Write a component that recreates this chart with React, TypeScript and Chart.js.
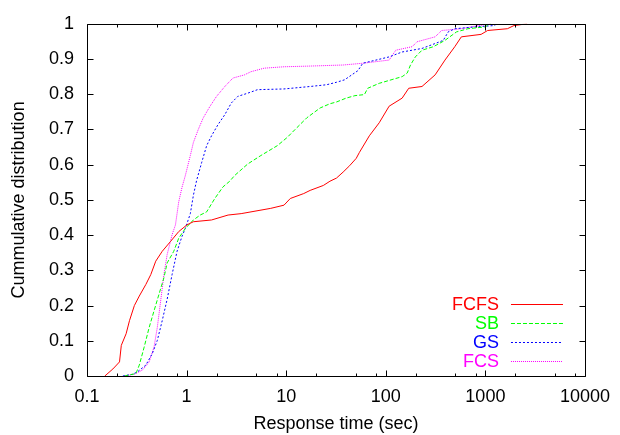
import React, { useEffect, useRef } from "react";
import { Chart, registerables } from "chart.js";

Chart.register(...registerables);

// ---- Data ----
const FCFS_X = [0.151, 0.182, 0.212, 0.221, 0.247, 0.267, 0.299, 0.335, 0.39, 0.437, 0.49, 0.569, 0.69, 0.833, 1.007, 1.17, 1.78, 2.61, 3.53, 7.0, 9.5, 11.0, 15.0, 17.4, 23.6, 27.5, 32, 37.3, 43.3, 50.5, 54.4, 68.4, 85.9, 108, 146, 170, 231, 313, 393, 493, 574, 906, 1054, 1663, 1936, 2623];
const FCFS_Y = [0, 0.02, 0.04, 0.087, 0.12, 0.157, 0.2, 0.227, 0.26, 0.288, 0.326, 0.354, 0.382, 0.41, 0.429, 0.438, 0.443, 0.457, 0.461, 0.476, 0.485, 0.504, 0.518, 0.527, 0.541, 0.553, 0.562, 0.579, 0.597, 0.618, 0.635, 0.682, 0.719, 0.766, 0.789, 0.817, 0.822, 0.855, 0.897, 0.935, 0.963, 0.97, 0.981, 0.986, 0.995, 1];

const SB_X = [0.238, 0.31, 0.335, 0.375, 0.421, 0.471, 0.528, 0.592, 0.638, 0.743, 0.833, 0.971, 1.17, 1.37, 1.59, 1.92, 2.32, 2.71, 3.03, 4.11, 5.57, 8.15, 10.2, 12.8, 16.1, 21.9, 27.5, 32, 40, 49, 61, 65.9, 85.9, 146, 164, 177, 198, 231, 301, 393, 513, 668, 977, 1138];
const SB_Y = [0, 0.007, 0.031, 0.082, 0.138, 0.185, 0.232, 0.279, 0.321, 0.354, 0.391, 0.419, 0.443, 0.457, 0.466, 0.504, 0.537, 0.553, 0.569, 0.602, 0.626, 0.654, 0.677, 0.705, 0.733, 0.761, 0.773, 0.778, 0.789, 0.796, 0.799, 0.817, 0.831, 0.85, 0.86, 0.883, 0.906, 0.925, 0.935, 0.953, 0.977, 0.986, 0.991, 1];

const GS_X = [0.229, 0.287, 0.322, 0.39, 0.453, 0.508, 0.569, 0.638, 0.715, 0.802, 0.898, 0.971, 1.09, 1.17, 1.26, 1.42, 1.59, 1.78, 2.07, 2.42, 2.81, 3.27, 4.11, 5.16, 9.5, 17.4, 25.5, 32, 38.6, 52.5, 58.8, 79.6, 108, 146, 231, 313, 378, 423, 493, 778, 1228, 1300];
const GS_Y = [0, 0.005, 0.012, 0.031, 0.064, 0.101, 0.157, 0.218, 0.288, 0.354, 0.396, 0.419, 0.461, 0.513, 0.555, 0.607, 0.654, 0.682, 0.714, 0.742, 0.775, 0.794, 0.803, 0.813, 0.815, 0.822, 0.827, 0.834, 0.841, 0.867, 0.888, 0.897, 0.906, 0.92, 0.93, 0.944, 0.953, 0.977, 0.986, 0.991, 0.995, 1];

const FCS_X = [0.238, 0.299, 0.361, 0.421, 0.471, 0.508, 0.549, 0.592, 0.638, 0.715, 0.773, 0.833, 0.898, 0.971, 1.09, 1.17, 1.31, 1.47, 1.72, 2.0, 2.42, 2.92, 3.81, 4.43, 6.01, 9.5, 17.4, 37.3, 58.8, 108, 126, 184, 206, 313, 364, 574, 778, 1138];
const FCS_Y = [0, 0.005, 0.017, 0.04, 0.082, 0.138, 0.213, 0.288, 0.345, 0.401, 0.429, 0.494, 0.535, 0.569, 0.626, 0.663, 0.7, 0.733, 0.766, 0.794, 0.822, 0.846, 0.855, 0.864, 0.874, 0.878, 0.88, 0.883, 0.888, 0.897, 0.925, 0.935, 0.949, 0.963, 0.981, 0.986, 0.993, 1];

const SERIES_NAMES = ["FCFS", "SB", "GS", "FCS"];
const X_MAJOR_TICKS = [0.1, 1, 10, 100, 1000, 10000];
const X_MINOR_TICKS = [0.2, 0.5, 0.8, 2, 5, 8, 20, 50, 80, 200, 500, 800, 2000, 5000, 8000];
const Y_TICKS = [0, 0.1, 0.2, 0.3, 0.4, 0.5, 0.6, 0.7, 0.8, 0.9, 1];

const FONT = "'Liberation Sans', Arial, Helvetica, sans-serif";

function pts(xs: number[], ys: number[]) {
  return xs.map((x, i) => ({ x, y: ys[i] }));
}

const gnuFrame = {
  id: "gnuFrame",
  afterDatasetsDraw(chart: any) {
    const { ctx, chartArea } = chart;
    const { left, right, top, bottom } = chartArea;
    const xs = chart.scales.x;
    const ys = chart.scales.y;
    ctx.save();
    ctx.strokeStyle = "#000";
    ctx.lineWidth = 1;
    ctx.setLineDash([]);
    ctx.beginPath();
    const L = Math.round(left) + 0.5;
    const R = Math.round(right) + 0.5;
    const T = Math.round(top) + 0.5;
    const B = Math.round(bottom) + 0.5;
    ctx.rect(L, T, R - L, B - T);
    for (const v of X_MAJOR_TICKS) {
      const p = Math.round(xs.getPixelForValue(v)) + 0.5;
      ctx.moveTo(p, B); ctx.lineTo(p, B - 6);
      ctx.moveTo(p, T); ctx.lineTo(p, T + 6);
    }
    for (const v of X_MINOR_TICKS) {
      const p = Math.round(xs.getPixelForValue(v)) + 0.5;
      ctx.moveTo(p, B); ctx.lineTo(p, B - 3);
      ctx.moveTo(p, T); ctx.lineTo(p, T + 3);
    }
    for (const v of Y_TICKS) {
      const p = Math.round(ys.getPixelForValue(v)) + 0.5;
      ctx.moveTo(L, p); ctx.lineTo(L + 6, p);
      ctx.moveTo(R, p); ctx.lineTo(R - 6, p);
    }
    ctx.stroke();

    // gnuplot-style key
    ctx.font = `18px ${FONT}`;
    ctx.textAlign = "right";
    ctx.textBaseline = "middle";
    chart.data.datasets.forEach((ds: any, i: number) => {
      const yy = Math.round(bottom - 72 + i * 19) + 0.5;
      ctx.fillStyle = ds.borderColor;
      ctx.fillText(ds.label, right - 86, yy + 1);
      ctx.strokeStyle = ds.borderColor;
      ctx.setLineDash(ds.borderDash || []);
      ctx.beginPath();
      ctx.moveTo(right - 74, yy);
      ctx.lineTo(right - 22, yy);
      ctx.stroke();
    });
    ctx.restore();
  },
};

export default function App() {
  const ref = useRef<HTMLCanvasElement | null>(null);
  useEffect(() => {
    if (!ref.current) return;
    const colors = ["#ff0000", "#00ff00", "#0000ff", "#ff00ff"];
    const dashes = [[], [4, 2], [2, 2], [1, 1]];
    const data = [pts(FCFS_X, FCFS_Y), pts(SB_X, SB_Y), pts(GS_X, GS_Y), pts(FCS_X, FCS_Y)];
    const chart = new Chart(ref.current, {
      type: "line",
      data: {
        datasets: SERIES_NAMES.map((name, i) => ({
          label: name,
          data: data[i],
          borderColor: colors[i],
          backgroundColor: colors[i],
          borderWidth: 1,
          borderDash: dashes[i],
          pointRadius: 0,
          tension: 0,
          fill: false,
        })),
      },
      options: {
        animation: false,
        responsive: false,
        layout: { padding: { left: 0, right: 28, top: 20, bottom: 0 } },
        plugins: { legend: { display: false }, tooltip: { enabled: false } },
        scales: {
          x: {
            type: "logarithmic",
            min: 0.1,
            max: 10000,
            grid: { display: false, drawTicks: false },
            border: { display: false },
            afterBuildTicks: (s: any) => {
              s.ticks = X_MAJOR_TICKS.map((v) => ({ value: v }));
            },
            afterFit: (s: any) => {
              s.height = 59;
            },
            ticks: {
              autoSkip: false,
              maxRotation: 0,
              padding: 10,
              color: "#000",
              font: { size: 18, family: FONT },
              callback: (v: any) => String(v),
            },
            title: {
              display: true,
              text: "Response time (sec)",
              color: "#000",
              font: { size: 18, family: FONT },
              padding: { top: 0, bottom: 0 },
            },
          },
          y: {
            type: "linear",
            min: 0,
            max: 1,
            grid: { display: false, drawTicks: false },
            border: { display: false },
            afterBuildTicks: (s: any) => {
              s.ticks = Y_TICKS.map((v) => ({ value: v }));
            },
            afterFit: (s: any) => {
              s.width = 87;
            },
            ticks: {
              padding: 13,
              color: "#000",
              font: { size: 18, family: FONT },
              callback: (v: any) => String(Number(Number(v).toFixed(1))),
            },
            title: {
              display: true,
              text: "Cummulative distribution",
              color: "#000",
              font: { size: 18, family: FONT },
              padding: { top: 8, bottom: 0 },
            },
          },
        },
      },
      plugins: [gnuFrame],
    });
    return () => chart.destroy();
  }, []);
  return (
    <canvas
      ref={ref}
      width={620}
      height={435}
      style={{ position: "absolute", left: 0, top: 0, width: 620, height: 435, background: "#fff" }}
    />
  );
}
